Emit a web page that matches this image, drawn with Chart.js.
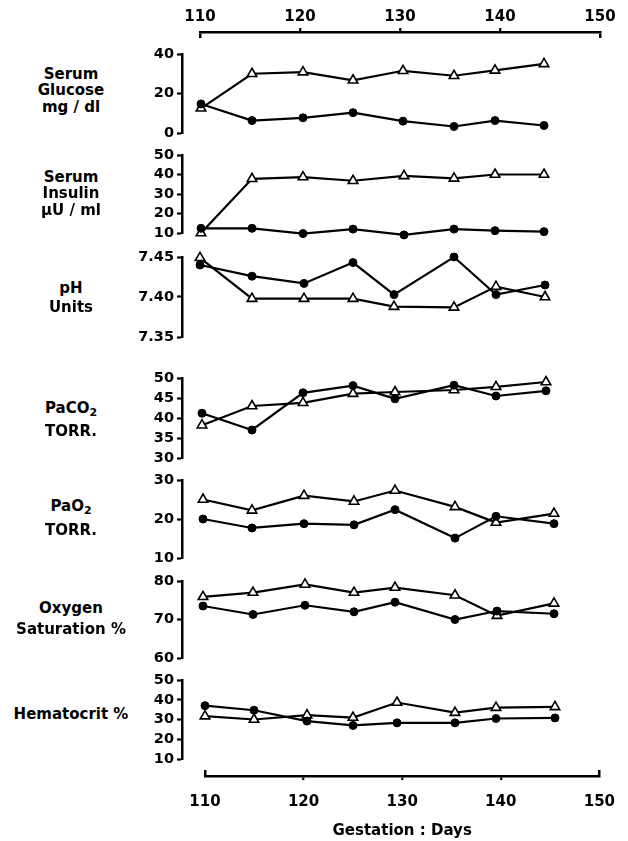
<!DOCTYPE html>
<html>
<head>
<meta charset="utf-8">
<script src="https://cdn.jsdelivr.net/npm/chart.js@4.4.1/dist/chart.umd.min.js"></script>
<style>
  html, body { margin: 0; padding: 0; background: #fff; }
  #page { position: relative; width: 628px; height: 841px; overflow: hidden; }
  canvas { position: absolute; left: 0; }
  .lbl { position: absolute; left: 0; width: 142px; height: 18px; line-height: 18px; text-align: center;
         font-family: 'DejaVu Sans', sans-serif; font-weight: bold; font-size: 15px; color: #000; white-space: nowrap; }
  .lbl sub { font-size: 11px; vertical-align: -3px; line-height: 0; }
</style>
</head>
<body>
<div id="page"></div>
<script>
// gestation days on the axes
const dayTicks = [110, 120, 130, 140, 150];

// Serum glucose mg/dl
const glucoseDays = [110.1, 115.2, 120.3, 125.3, 130.3, 135.4, 139.5, 144.4];
const glucoseCircles = [14.7, 6.3, 7.7, 10.3, 6.0, 3.3, 6.3, 3.8];
const glucoseTriangles = [12.5, 30.0, 30.8, 26.7, 31.5, 29.0, 31.7, 35.0];
const glucoseTicks = [0, 20, 40];

// Serum insulin uU/ml
const insulinDays = [110.1, 115.2, 120.3, 125.3, 130.4, 135.4, 139.5, 144.4];
const insulinCircles = [12.4, 12.4, 9.7, 12.0, 9.0, 12.0, 11.2, 10.7];
const insulinTriangles = [10.0, 37.8, 38.7, 36.8, 39.3, 38.0, 40.0, 40.0];
const insulinTicks = [10, 20, 30, 40, 50];

// pH units
const phDays = [110.0, 115.2, 120.4, 125.3, 129.4, 135.4, 139.6, 144.5];
const phCircles = [7.440, 7.426, 7.417, 7.443, 7.403, 7.450, 7.403, 7.415];
const phTriangles = [7.449, 7.398, 7.398, 7.398, 7.388, 7.387, 7.413, 7.400];
const phTicks = [7.35, 7.40, 7.45];

// PaCO2 torr
const paco2Days = [110.2, 115.2, 120.3, 125.3, 129.5, 135.4, 139.6, 144.6];
const paco2Circles = [41.2, 37.0, 46.3, 48.1, 44.8, 48.2, 45.5, 46.8];
const paco2Triangles = [38.2, 43.0, 43.8, 46.1, 46.5, 47.0, 47.8, 49.0];
const paco2Ticks = [30, 35, 40, 45, 50];

// PaO2 torr
const pao2Days = [110.3, 115.2, 120.4, 125.4, 129.5, 135.5, 139.6, 145.4];
const pao2Circles = [20.0, 17.7, 18.8, 18.5, 22.4, 15.1, 20.7, 18.8];
const pao2Triangles = [25.0, 22.2, 26.0, 24.5, 27.3, 23.1, 19.1, 21.4];
const pao2Ticks = [10, 20, 30];

// Oxygen saturation %
const o2Days = [110.3, 115.3, 120.5, 125.4, 129.5, 135.5, 139.7, 145.4];
const o2Circles = [73.5, 71.3, 73.7, 72.0, 74.5, 70.0, 72.2, 71.5];
const o2Triangles = [75.9, 77.0, 79.1, 77.0, 78.3, 76.3, 71.0, 74.2];
const o2Ticks = [60, 70, 80];

// Hematocrit %
const hctDays = [110.5, 115.4, 120.7, 125.3, 129.7, 135.5, 139.6, 145.5];
const hctCircles = [37.0, 34.7, 29.2, 27.0, 28.3, 28.3, 30.5, 30.8];
const hctTriangles = [31.7, 30.0, 32.2, 31.0, 38.6, 33.5, 36.0, 36.4];
const hctTicks = [10, 20, 30, 40, 50];

const FONT = "'DejaVu Sans', sans-serif";
const page = document.getElementById('page');

// panel layout: pixel rows of the y-axis ends, labels at their line centres
const panels = [
  { days: glucoseDays, circles: glucoseCircles, triangles: glucoseTriangles, ticks: glucoseTicks, top: 54, bottom: 133,
    lines: [['Serum', 74], ['Glucose', 90], ['mg / dl', 107]] },
  { days: insulinDays, circles: insulinCircles, triangles: insulinTriangles, ticks: insulinTicks, top: 155, bottom: 233,
    lines: [['Serum', 177], ['Insulin', 193], ['µU / ml', 210]] },
  { days: phDays, circles: phCircles, triangles: phTriangles, ticks: phTicks, top: 257, bottom: 337, digits: 2,
    lines: [['pH', 288], ['Units', 307]] },
  { days: paco2Days, circles: paco2Circles, triangles: paco2Triangles, ticks: paco2Ticks, top: 378, bottom: 458,
    lines: [['PaCO<sub>2</sub>', 408], ['TORR.', 431]] },
  { days: pao2Days, circles: pao2Circles, triangles: pao2Triangles, ticks: pao2Ticks, top: 480, bottom: 558,
    lines: [['PaO<sub>2</sub>', 506], ['TORR.', 530]] },
  { days: o2Days, circles: o2Circles, triangles: o2Triangles, ticks: o2Ticks, top: 581, bottom: 658,
    lines: [['Oxygen', 608], ['Saturation %', 629]] },
  { days: hctDays, circles: hctCircles, triangles: hctTriangles, ticks: hctTicks, top: 680, bottom: 759,
    lines: [['Hematocrit %', 714]] }
];

function addCanvas(top, height) {
  const c = document.createElement('canvas');
  c.width = 628; c.height = height;
  c.style.top = top + 'px';
  c.style.width = '628px'; c.style.height = height + 'px';
  page.appendChild(c);
  return c;
}

const PAD = 14;
panels.forEach(p => {
  p.lines.forEach(([txt, cy]) => {
    const d = document.createElement('div');
    d.className = 'lbl';
    d.style.top = (cy - 9) + 'px';
    d.innerHTML = txt;
    page.appendChild(d);
  });

  const canvas = addCanvas(p.top - PAD, p.bottom - p.top + PAD * 2);
  new Chart(canvas.getContext('2d'), {
    type: 'line',
    data: {
      datasets: [{
        data: p.days.map((d, i) => ({ x: d, y: p.circles[i] })),
        borderColor: '#000',
        borderWidth: 2.2,
        pointStyle: 'circle',
        pointRadius: 4,
        pointBackgroundColor: '#000',
        pointBorderColor: '#000',
        pointBorderWidth: 1,
        tension: 0,
        clip: false
      }, {
        data: p.days.map((d, i) => ({ x: d, y: p.triangles[i] })),
        borderColor: '#000',
        borderWidth: 2.2,
        pointStyle: 'triangle',
        pointRadius: 5.5,
        pointBackgroundColor: '#fff',
        pointBorderColor: '#000',
        pointBorderWidth: 1.6,
        tension: 0,
        clip: false
      }]
    },
    options: {
      responsive: false,
      animation: false,
      events: [],
      layout: { padding: { top: PAD, bottom: PAD, left: 0, right: 18 } },
      plugins: { legend: { display: false }, tooltip: { enabled: false } },
      scales: {
        x: { type: 'linear', min: 108.2, max: 151, display: false },
        y: {
          min: p.ticks[0],
          max: p.ticks[p.ticks.length - 1],
          afterFit: s => { s.width = 182; },
          afterBuildTicks: s => { s.ticks = p.ticks.map(v => ({ value: v })); },
          grid: { drawOnChartArea: false, drawTicks: true, tickLength: 5, tickColor: '#000', tickWidth: 2.2 },
          border: { display: true, color: '#000', width: 2.5 },
          ticks: {
            color: '#000',
            padding: 3,
            autoSkip: false,
            font: { family: FONT, size: 14.5, weight: 'bold' },
            callback: v => p.digits ? Number(v).toFixed(p.digits) : v
          }
        }
      }
    }
  });
});

// gestation axis: end ticks point toward the plots, middle ticks toward the labels
function dayAxis(canvas, position, padLeft, extra) {
  const isEnd = ctx => ctx.tick && (ctx.tick.value === 110 || ctx.tick.value === 150);
  return new Chart(canvas.getContext('2d'), {
    type: 'line',
    data: { datasets: [] },
    options: {
      responsive: false,
      animation: false,
      events: [],
      layout: { padding: { top: 0, bottom: 0, left: padLeft, right: 628 - padLeft - 400 } },
      plugins: { legend: { display: false }, tooltip: { enabled: false } },
      scales: {
        x: Object.assign({
          type: 'linear',
          position: position,
          min: 110,
          max: 150,
          afterBuildTicks: s => { s.ticks = dayTicks.map(v => ({ value: v })); },
          grid: {
            drawOnChartArea: true,
            drawTicks: true,
            tickLength: 4,
            lineWidth: 2.5,
            tickWidth: 2.2,
            color: ctx => isEnd(ctx) ? '#000' : 'rgba(0,0,0,0)',
            tickColor: ctx => isEnd(ctx) ? 'rgba(0,0,0,0)' : '#000'
          },
          border: { display: true, color: '#000', width: 2.5 }
        }, extra),
        y: { display: false }
      }
    }
  });
}

dayAxis(addCanvas(0, 38), 'top', 200, {
  afterFit: s => { s.height = 32; },
  ticks: { color: '#000', maxRotation: 0, autoSkip: false, padding: 2, font: { family: FONT, size: 15, weight: 'bold' } }
});

dayAxis(addCanvas(770, 71), 'bottom', 205, {
  afterFit: s => { s.height = 65; },
  ticks: { color: '#000', maxRotation: 0, autoSkip: false, padding: 13, font: { family: FONT, size: 15, weight: 'bold' } },
  title: { display: true, text: 'Gestation : Days', color: '#000', padding: { top: 0, bottom: 1 },
           font: { family: FONT, size: 15, weight: 'bold' } }
});
</script>
</body>
</html>
